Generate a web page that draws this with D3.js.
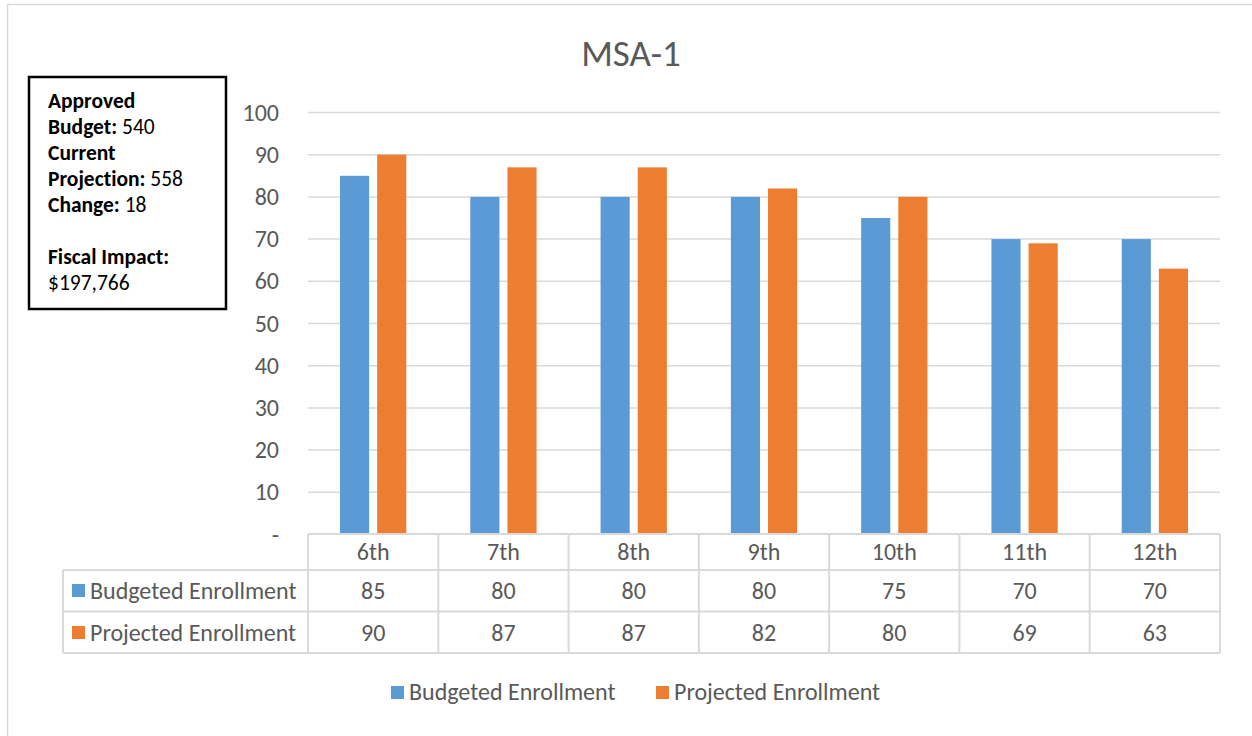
<!DOCTYPE html>
<html lang="en">
<head>
    <meta charset="UTF-8">
    <title>MSA-1</title>
    <script src="https://d3js.org/d3.v7.min.js"></script>
    <style>
        body { margin: 0; background: #fff; }
        text { font-family: Carlito, Calibri, Lato, sans-serif; font-variant-ligatures: none; }
    </style>
</head>
<body>
<script>
// data
var grades = ["6th", "7th", "8th", "9th", "10th", "11th", "12th"];
var seriesNames = ["Budgeted Enrollment", "Projected Enrollment"];
var budgeted = [85, 80, 80, 80, 75, 70, 70];
var projected = [90, 87, 87, 82, 80, 69, 63];
var yTicks = [0, 10, 20, 30, 40, 50, 60, 70, 80, 90, 100];
var colors = ["#5b9bd5", "#ed7d31"];
var infoLines = [
  [["Approved", true]],
  [["Budget:", true], [" 540", false]],
  [["Current", true]],
  [["Projection:", true], [" 558", false]],
  [["Change:", true], [" 18", false]],
  [],
  [["Fiscal Impact:", true]],
  [["$197,766", false]]
];

var width = 1252, height = 736;
var plotLeft = 308, plotRight = 1220, plotTop = 112.5, base = 534.5;
var textCol = "#595959", gridCol = "#d9d9d9";
var fs = "24px";

var svg = d3.select("body").append("svg")
  .attr("width", width)
  .attr("height", height);

// outer chart border
svg.append("rect")
  .attr("x", 7.5).attr("y", 4.5)
  .attr("width", width).attr("height", height)
  .style("fill", "#fff").style("stroke", "#d9d9d9").style("stroke-width", 1.5);

svg.append("text")
  .attr("x", 631).attr("y", 66)
  .attr("text-anchor", "middle")
  .style("font-size", "37px").style("fill", textCol)
  .text("MSA-1");

var x = d3.scaleBand().domain(grades).range([plotLeft, plotRight]);
var x1 = d3.scaleBand().domain(seriesNames)
  .range([32, x.bandwidth() - 32]).paddingInner(0.216);
var y = d3.scaleLinear().domain([0, 100]).range([base, plotTop]);

// gridlines
svg.append("g").selectAll("line")
  .data(yTicks.filter(function(d) { return d > 0; }))
  .enter().append("line")
  .attr("x1", plotLeft).attr("x2", plotRight)
  .attr("y1", function(d) { return y(d); })
  .attr("y2", function(d) { return y(d); })
  .style("stroke", gridCol).style("stroke-width", 1.5);

// y tick labels
svg.append("g").selectAll("text")
  .data(yTicks)
  .enter().append("text")
  .attr("x", 279)
  .attr("y", function(d) { return y(d) + 8; })
  .attr("text-anchor", "end")
  .style("font-size", fs).style("fill", textCol)
  .text(function(d) { return d === 0 ? "-" : d; });

// bars
var allSeries = [budgeted, projected];
allSeries.forEach(function(vals, si) {
  svg.append("g").selectAll("rect")
    .data(vals)
    .enter().append("rect")
    .attr("x", function(d, i) { return x(grades[i]) + x1(seriesNames[si]); })
    .attr("y", function(d) { return y(d); })
    .attr("width", x1.bandwidth())
    .attr("height", function(d) { return base - y(d); })
    .style("fill", colors[si]);
});

// data table
var rowTop = 534, tableBottom = 653;
var rowLines = [570, 611.5];
var tableLeft = 63;
var t = svg.append("g").style("stroke", gridCol).style("stroke-width", 2).style("fill", "none");
t.append("line").attr("x1", plotLeft).attr("x2", plotRight).attr("y1", rowTop).attr("y2", rowTop);
rowLines.concat([tableBottom]).forEach(function(ry) {
  t.append("line").attr("x1", tableLeft).attr("x2", plotRight).attr("y1", ry).attr("y2", ry);
});
t.append("line").attr("x1", tableLeft).attr("x2", tableLeft).attr("y1", rowLines[0]).attr("y2", tableBottom);
t.selectAll(".v")
  .data(grades.concat(["end"]))
  .enter().append("line")
  .attr("x1", function(d, i) { return plotLeft + i * x.step(); })
  .attr("x2", function(d, i) { return plotLeft + i * x.step(); })
  .attr("y1", rowTop).attr("y2", tableBottom);

svg.append("g").selectAll("text")
  .data(grades)
  .enter().append("text")
  .attr("x", function(d) { return x(d) + x.bandwidth() / 2; })
  .attr("y", 560)
  .attr("text-anchor", "middle")
  .style("font-size", fs).style("fill", textCol)
  .text(function(d) { return d; });

var rowY = [591, 633];
allSeries.forEach(function(vals, si) {
  svg.append("g").selectAll("text")
    .data(vals)
    .enter().append("text")
    .attr("x", function(d, i) { return x(grades[i]) + x.bandwidth() / 2; })
    .attr("y", rowY[si] + 8)
    .attr("text-anchor", "middle")
    .style("font-size", fs).style("fill", textCol)
    .text(function(d) { return d; });
  svg.append("rect")
    .attr("x", 72).attr("y", rowY[si] - 7)
    .attr("width", 13).attr("height", 13)
    .style("fill", colors[si]);
  svg.append("text")
    .attr("x", 90).attr("y", rowY[si] + 8)
    .style("font-size", fs).style("fill", textCol)
    .text(seriesNames[si]);
});

// legend
var legendX = [391, 656];
seriesNames.forEach(function(name, si) {
  svg.append("rect")
    .attr("x", legendX[si]).attr("y", 686)
    .attr("width", 13).attr("height", 13)
    .style("fill", colors[si]);
  svg.append("text")
    .attr("x", legendX[si] + 18).attr("y", 700)
    .style("font-size", fs).style("fill", textCol)
    .text(name);
});

// info box
svg.append("rect")
  .attr("x", 29).attr("y", 77)
  .attr("width", 197).attr("height", 232)
  .style("fill", "#fff").style("stroke", "#000").style("stroke-width", 2.5);

var info = svg.append("text")
  .style("font-size", "21.5px").style("fill", "#000");
infoLines.forEach(function(parts, li) {
  var line = info.append("tspan").attr("x", 48).attr("y", 108 + li * 26);
  parts.forEach(function(p) {
    line.append("tspan")
      .style("font-weight", p[1] ? "bold" : "normal")
      .text(p[0]);
  });
});
</script>
</body>
</html>
